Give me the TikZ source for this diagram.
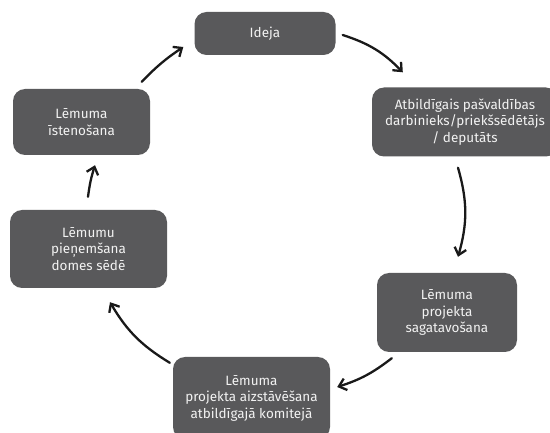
\documentclass[tikz,border=0pt]{standalone}
\usepackage{fontspec}
\setmainfont{Fira Sans}
\usetikzlibrary{arrows.meta,calc}
\definecolor{boxgray}{HTML}{59595B}
\definecolor{boxtext}{HTML}{F2F2F2}
\tikzset{
  stepbox/.style={draw=none, fill=boxgray, text=boxtext, rounded corners=12pt,
    align=center, font=\fontsize{13.5}{16.5}\selectfont, inner sep=0pt},
  flow/.style={line width=2.3pt, line cap=round, black!90,
    -{Straight Barb[length=7pt,width=12pt,line width=2.3pt]}}
}
\begin{document}
\begin{tikzpicture}[x=1pt,y=1pt]
    \useasboundingbox (0,0) rectangle (550,432);
    \node[stepbox, minimum width=141pt, minimum height=43pt] (ideja) at (265,398.5) {Ideja};
    \node[stepbox, minimum width=186pt, minimum height=69pt] (atbildigais) at (465,310) {Atbildīgais pašvaldības\\darbinieks/priekšsēdētājs\\/ deputāts};
    \node[stepbox, minimum width=140pt, minimum height=79pt] (sagatavosana) at (447,119.5) {Lēmuma\\projekta\\sagatavošana};
    \node[stepbox, minimum width=157pt, minimum height=82pt] (komiteja) at (251.5,34) {Lēmuma\\projekta aizstāvēšana\\atbildīgajā komitejā};
    \node[stepbox, minimum width=157pt, minimum height=78pt] (pienemsana) at (88.5,183) {Lēmumu\\pieņemšana\\domes sēdē};
    \node[stepbox, minimum width=137pt, minimum height=66pt] (istenosana) at (81.5,310) {Lēmuma\\īstenošana};
    \coordinate (a1) at ($(ideja.east)+(7,-1.5)$);
    \coordinate (b1) at ($(atbildigais.north west)+(31,15)$);
    \coordinate (a2) at ($(atbildigais.south)+(-7,-11)$);
    \coordinate (b2) at ($(sagatavosana.north)+(11,16)$);
    \coordinate (a3) at ($(sagatavosana.south west)+(15,-6)$);
    \coordinate (b3) at ($(komiteja.east)+(7,11)$);
    \coordinate (a4) at ($(komiteja.north west)+(-3,-6)$);
    \coordinate (b4) at ($(pienemsana.south)+(21.5,-14)$);
    \coordinate (a5) at ($(pienemsana.north)+(-0.5,13)$);
    \coordinate (b5) at ($(istenosana.south)+(13.5,-10)$);
    \coordinate (a6) at ($(istenosana.north east)+(-8.5,7)$);
    \coordinate (b6) at ($(ideja.west)+(-11,-13.5)$);
    \draw[flow] (a1) to[bend left=14] (b1);
    \draw[flow] (a2) to[bend left=16] (b2);
    \draw[flow] (a3) to[bend left=10] (b3);
    \draw[flow] (a4) to[bend left=14] (b4);
    \draw[flow] (a5) to[bend left=5] (b5);
    \draw[flow] (a6) to[bend left=6] (b6);
\end{tikzpicture}
\end{document}
